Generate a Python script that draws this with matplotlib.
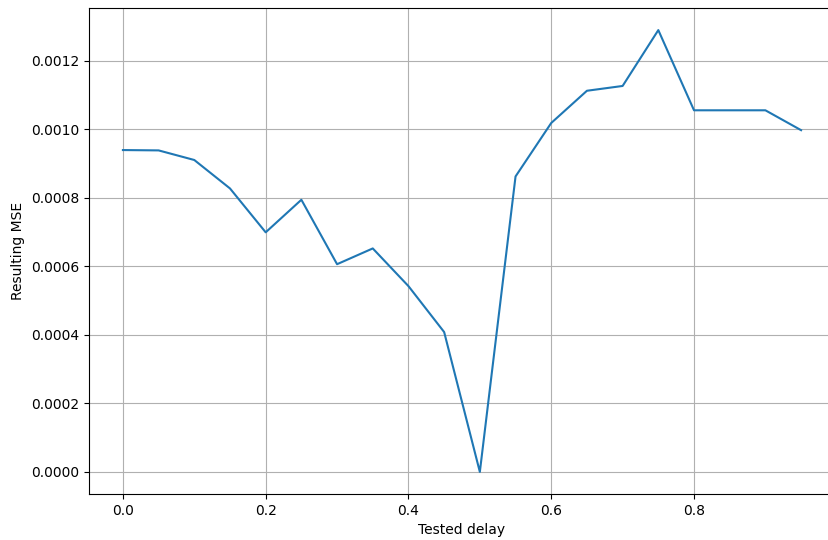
import numpy as np
import matplotlib
matplotlib.use('Agg')
import matplotlib.pyplot as plt

delays = [0.0, 0.05, 0.1, 0.15, 0.2, 0.25, 0.3, 0.35, 0.4, 0.45,
          0.5, 0.55, 0.6, 0.65, 0.7, 0.75, 0.8, 0.85, 0.9, 0.95]
mse = [0.000939, 0.000938, 0.000910, 0.000827, 0.000699, 0.000794, 0.000606,
       0.000652, 0.000542, 0.000408, 0.0, 0.000862, 0.001018, 0.001112,
       0.001126, 0.001289, 0.001055, 0.001055, 0.001055, 0.000997]

fig = plt.figure(figsize=(8.29, 5.4), dpi=100)
# axes run slightly past the right edge of the canvas
ax = fig.add_axes([89 / 829, 46 / 540, 746 / 829, 486 / 540])
ax.plot(delays, mse)
ax.grid(True)
ax.set_xlabel('Tested delay')
ax.set_ylabel('Resulting MSE')
ax.yaxis.set_major_formatter(matplotlib.ticker.FormatStrFormatter('%.4f'))
fig.savefig('out.png', dpi=100)
